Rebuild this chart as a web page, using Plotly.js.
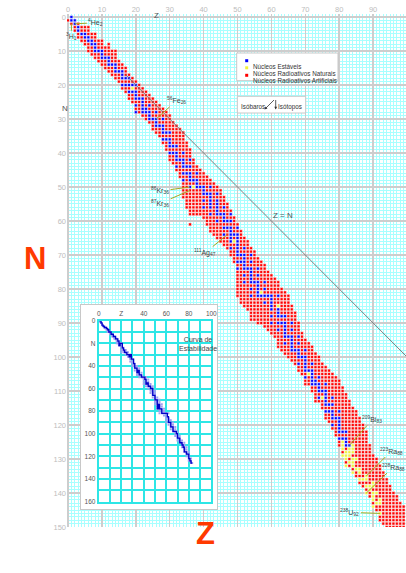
<!DOCTYPE html>
<html><head><meta charset="utf-8">
<script src="https://cdn.plot.ly/plotly-3.0.1.min.js"></script>
<style>html,body{margin:0;padding:0;background:#fff}#c{width:406px;height:573px}</style>
</head><body><div id="c"></div>
<script>
// ---------- DATA ----------
// proton number Z; lightest / heaviest known neutron number N for that Z
const zList = [0,1,2,3,4,5,6,7,8,9,10,11,12,13,14,15,16,17,18,19,20,21,22,23,24,25,26,27,28,29,30,31,32,33,34,35,36,37,38,39,40,41,42,43,44,45,46,47,48,49,50,51,52,53,54,55,56,57,58,59,60,61,62,63,64,65,66,67,68,69,70,71,72,73,74,75,76,77,78,79,80,81,82,83,84,85,86,87,88,89,90,91,92,93,94,95,96,97,98,99];
const nMin = [1,0,1,2,3,3,3,5,5,7,7,9,8,10,10,13,14,15,17,18,19,20,21,22,23,24,25,26,27,28,29,31,32,33,34,37,39,42,44,45,46,47,48,49,50,51,53,55,57,59,61,63,65,66,68,69,71,72,73,75,76,77,78,80,81,82,85,87,90,93,95,96,97,99,100,102,103,104,105,106,107,109,111,113,115,116,118,120,122,126,129,130,132,134,136,138,140,141,143,144];
const nMax = [1,2,4,6,7,8,10,11,12,13,14,15,16,17,18,19,21,22,24,25,28,28,29,30,31,33,34,35,37,39,42,43,45,47,53,56,58,58,58,58,59,61,63,64,65,66,67,68,70,72,82,84,85,86,89,89,90,90,91,92,93,94,97,98,99,100,101,102,104,105,108,108,110,113,113,115,118,119,121,123,126,129,132,132,134,135,137,138,140,141,144,145,148,149,150,150,150,150,150,150];
// isolated nuclides outside the ranges
const extraZ = [36];
const extraN = [61];
// stable nuclides: N values for each Z
const stableN = [[],[0,1],[1,2],[3,4],[5],[5,6],[6,7],[7,8],[8,9,10],[10],[10,11,12],[12],[12,13,14],[14],[14,15,16],[16],[16,17,18,20],[18,20],[18,20,22],[20,22],[20,22,23,24,26,28],[24],[24,25,26,27,28],[27,28],[26,28,29,30],[30],[28,30,31,32],[32],[30,32,33,34,36],[34,36],[34,36,37,38,40],[38,40],[38,40,41,42,44],[42],[40,42,43,44,46,48],[44,46],[42,44,46,47,48,50],[48],[46,48,49,50],[50],[50,51,52,54,56],[52],[50,52,53,54,55,56,58],[],[52,54,55,56,57,58,60],[58],[56,58,59,60,62,64],[60,62],[58,60,62,63,64,65,66,68],[64],[62,64,65,66,67,68,69,70,72,74],[70,72],[68,70,71,72,73,74,76,78],[74],[70,72,74,75,76,77,78,80,82],[78],[74,76,78,79,80,81,82],[82],[78,80,82,84],[82],[82,83,84,85,86,88,90],[],[82,86,87,88,90,92],[88,90],[88,90,91,92,93,94,96],[94],[90,92,94,95,96,97,98],[98],[94,96,98,99,100,102],[100],[98,100,101,102,103,104,106],[104],[102,104,105,106,107,108],[107,108],[106,108,109,110,112],[110],[108,110,111,112,113,114,116],[114,116],[112,114,116,117,118,120],[118],[116,118,119,120,121,122,124],[122,124],[122,124,125,126],[126]];
// natural radioactive nuclides
const naturalZ = [19,37,49,57,62,71,75,81,81,81,81,82,82,82,82,83,83,83,83,84,84,84,84,84,84,84,85,85,86,86,86,87,88,88,88,88,89,89,90,90,90,90,90,90,91,91,92,92,92];
const naturalN = [21,50,66,81,85,105,112,125,126,127,129,128,129,130,132,127,128,129,131,126,127,128,130,131,132,134,130,133,133,134,136,136,135,136,138,140,138,139,137,138,140,141,142,144,140,143,142,143,146];
// labelled nuclides
const labelText = ['<sup>4</sup>He<sub>2</sub>','<sup>3</sup>H<sub>1</sub>','<sup>56</sup>Fe<sub>26</sub>','<sup>86</sup>Kr<sub>36</sub>','<sup>87</sup>Kr<sub>36</sub>','<sup>111</sup>Ag<sub>47</sub>','<sup>209</sup>Bi<sub>83</sub>','<sup>223</sup>Ra<sub>88</sub>','<sup>228</sup>Ra<sub>88</sub>','<sup>238</sup>U<sub>92</sub>'];
const labelZ = [2,1,26,36,36,47,83,88,88,92];
const labelN = [2,2,30,50,51,64,126,135,140,146];
// Z = N reference line (visible part)
const lineZ = [17,100];
const lineN = [17,100];
// stability curve of the inset
const curveZ = [0,1,2,3,4,5,6,7,8,9,10,11,12,13,14,15,16,17,18,19,20,21,22,23,24,25,26,27,28,29,30,31,32,33,34,35,36,37,38,39,40,41,42,43,44,45,46,47,48,49,50,51,52,53,54,55,56,57,58,59,60,61,62,63,64,65,66,67,68,69,70,71,72,73,74,75,76,77,78,79,80,81,82,83];
const curveN = [0,0,2,4,5,6,6,7,8,10,10,12,12,14,14,16,16,18,22,20,20,24,26,28,28,30,30,32,30,34,34,38,42,42,46,44,48,48,50,50,50,52,56,55,58,58,60,60,66,66,70,70,78,74,78,78,82,82,82,82,82,85,90,90,94,94,98,98,98,100,104,104,108,108,110,112,116,116,118,118,122,124,126,126];
const insetZTicks = [0,20,40,60,80,100];
const insetZText = ['0','Z','40','60','80','100'];
const insetNTicks = [0,20,40,60,80,100,120,140,160];
const insetNText = ['0','N','40','60','80','100','120','140','160'];

// ---------- build the cells ----------
const isNat = {};
naturalZ.forEach((z,i)=>{ isNat[z+'_'+naturalN[i]] = true; });
const R={x:[],y:[]}, B={x:[],y:[]}, Y={x:[],y:[]};
const seen = {};
function put(z,n){
  const k=z+'_'+n; if(seen[k]) return; seen[k]=true;
  if((stableN[z]||[]).indexOf(n)>=0){B.x.push(z);B.y.push(n);}
  else if(isNat[k]){Y.x.push(z);Y.y.push(n);}
  else {R.x.push(z);R.y.push(n);}
}
zList.forEach((z,i)=>{ for(let n=nMin[i]; n<=nMax[i]; n++) put(z,n); });
stableN.forEach((arr,z)=>arr.forEach(n=>put(z,n)));
naturalZ.forEach((z,i)=>put(z,naturalN[i]));
extraZ.forEach((z,i)=>put(z,extraN[i]));
const stX=[], stY=[];
stableN.forEach((arr,z)=>arr.forEach(n=>{stX.push(z);stY.push(n);}));

// ---------- geometry helpers (pixel -> paper) ----------
const L=67, T=14, W=339, H=513;
const px = x => (x-L)/W;
const py = y => (T+H-y)/H;
const FONT = 'Liberation Sans, Arial, sans-serif';

const cell = (c)=>({type:'scatter',mode:'markers',hoverinfo:'skip',showlegend:false,
  marker:{symbol:'square',size:2.9,color:c,line:{color:'#ffffff',width:0.5}}});

const traces = [
  Object.assign(cell('#ff0000'),{x:R.x,y:R.y}),
  Object.assign(cell('#0000ff'),{x:B.x,y:B.y}),
  Object.assign(cell('#f2f23a'),{x:Y.x,y:Y.y}),
  {type:'scatter',mode:'lines',x:lineZ,y:lineN,line:{color:'#707070',width:0.9},hoverinfo:'skip',showlegend:false},
  {type:'scatter',mode:'markers',x:[0.5],y:[0.5],xaxis:'x2',yaxis:'y2',marker:{opacity:0},hoverinfo:'skip',showlegend:false},
  {type:'scatter',mode:'markers',x:stX,y:stY,xaxis:'x3',yaxis:'y3',marker:{symbol:'square',size:2,color:'#a0a0f2'},hoverinfo:'skip',showlegend:false},
  {type:'scatter',mode:'lines',x:curveZ,y:curveN,xaxis:'x3',yaxis:'y3',line:{color:'#0000c8',width:1.3,shape:'hv'},hoverinfo:'skip',showlegend:false}
];

const ann = [];
// nuclide labels with leader lines
const ldx = [21,0,20,-30,-30,-22,23,25,27,-30];
const ldy = [-1,13,-18,4,13,18,-26,-25,-26,-1];
labelText.forEach((t,i)=>ann.push({x:labelZ[i],y:labelN[i],xref:'x',yref:'y',text:t,showarrow:true,
  arrowhead:0,arrowwidth:1,arrowcolor:'#a8a820',ax:ldx[i],ay:ldy[i],standoff:0,
  font:{family:FONT,size:7,color:'#444'}}));
function txt(x,y,t,size,color,extra){ann.push(Object.assign({xref:'paper',yref:'paper',x:px(x),y:py(y),text:t,showarrow:false,
  font:{family:FONT,size:size,color:color}},extra||{}));}
txt(152,9,'Z',8,'#555');
txt(60,102,'N',8,'#555');
txt(283,215,'Z = N',8,'#555');
txt(22,258,'<b>N</b>',31,'#ff3a00');
txt(205,553,'<b>Z</b>',31,'#ff3a00');
txt(250.5,60.7,'Núcleos Estáveis',6.3,'#333',{xanchor:'left'});
txt(250.5,67.8,'Núcleos Radioativos Naturais',6.3,'#333',{xanchor:'left'});
txt(250.5,75.3,'Núcleos Radioativos Artificiais',6.3,'#333',{xanchor:'left'});
txt(252.5,101.5,'Isóbaros',6.3,'#333');
txt(289.5,101.5,'Isótopos',6.3,'#333');
txt(177,343.5,'Curva de<br>Estabilidade',7,'#444');
// arrows in the Isóbaros / Isótopos box
ann.push({xref:'paper',yref:'paper',x:px(264.5),y:py(109.5),ax:11,ay:-11,text:'',showarrow:true,arrowhead:2,arrowsize:0.7,arrowwidth:0.8,arrowcolor:'#333',standoff:0});
ann.push({xref:'paper',yref:'paper',x:px(275.7),y:py(109.5),ax:0,ay:-11,text:'',showarrow:true,arrowhead:2,arrowsize:0.7,arrowwidth:0.8,arrowcolor:'#333',standoff:0});

const shapes = [
  {type:'rect',xref:'paper',yref:'paper',x0:px(236.7),x1:px(338),y0:py(80.7),y1:py(53),fillcolor:'#fff',line:{color:'#c8c8c8',width:1},layer:'above'},
  {type:'rect',xref:'paper',yref:'paper',x0:px(237.3),x1:px(305.7),y0:py(113),y1:py(96.3),fillcolor:'#fff',line:{color:'#c8c8c8',width:1},layer:'above'},
  {type:'rect',xref:'paper',yref:'paper',x0:px(245.2),x1:px(248.2),y0:py(62.2),y1:py(59.2),fillcolor:'#0000ff',line:{width:0},layer:'above'},
  {type:'rect',xref:'paper',yref:'paper',x0:px(245.2),x1:px(248.2),y0:py(69.3),y1:py(66.3),fillcolor:'#f2f23a',line:{width:0},layer:'above'},
  {type:'rect',xref:'paper',yref:'paper',x0:px(245.2),x1:px(248.2),y0:py(76.8),y1:py(73.8),fillcolor:'#ff0000',line:{width:0},layer:'above'}
];

const cyan = '#2ee6e6';
const layout = {
  width:406,height:573,margin:{l:L,r:406-L-W,t:T,b:573-T-H},
  paper_bgcolor:'#ffffff',plot_bgcolor:'#ffffff',showlegend:false,
  font:{family:FONT},
  xaxis:{range:[-0.3,99.7],side:'top',tickmode:'linear',tick0:0,dtick:10,showgrid:true,gridcolor:'#cdcdcd',gridwidth:1.5,
    minor:{dtick:1,tick0:0,showgrid:true,gridcolor:'#a8ffff',gridwidth:1},
    zeroline:false,showline:false,ticks:'',tickfont:{size:7.5,color:'#bdbdbd'},fixedrange:true},
  yaxis:{range:[150,-0.88],tickmode:'linear',tick0:0,dtick:10,showgrid:true,gridcolor:'#cdcdcd',gridwidth:1.5,
    minor:{dtick:1,tick0:0,showgrid:true,gridcolor:'#a8ffff',gridwidth:1},
    zeroline:false,showline:false,ticks:'',tickfont:{size:7.5,color:'#bdbdbd'},fixedrange:true},
  xaxis2:{domain:[px(80.7),px(217)],anchor:'y2',range:[0,1],showgrid:false,zeroline:false,showticklabels:false,ticks:'',
    showline:true,mirror:true,linecolor:'#c8c8c8',linewidth:1},
  yaxis2:{domain:[py(509),py(305)],anchor:'x2',range:[0,1],showgrid:false,zeroline:false,showticklabels:false,ticks:'',
    showline:true,mirror:true,linecolor:'#c8c8c8',linewidth:1},
  xaxis3:{domain:[px(98.7),px(211.3)],anchor:'y3',range:[0,100],side:'top',tickvals:insetZTicks,
    ticktext:insetZText,showgrid:true,gridcolor:cyan,gridwidth:2,
    minor:{dtick:10,tick0:0,showgrid:true,gridcolor:cyan,gridwidth:2},zeroline:false,ticks:'',
    showline:true,mirror:true,linecolor:cyan,linewidth:2,tickfont:{size:6.5,color:'#555'}},
  yaxis3:{domain:[py(501.5),py(320.7)],anchor:'x3',range:[160,0],tickvals:insetNTicks,
    ticktext:insetNText,showgrid:true,gridcolor:cyan,gridwidth:2,
    minor:{dtick:10,tick0:0,showgrid:true,gridcolor:cyan,gridwidth:2},zeroline:false,ticks:'',
    showline:true,mirror:true,linecolor:cyan,linewidth:2,tickfont:{size:6.5,color:'#555'}},
  annotations:ann, shapes:shapes
};
Plotly.newPlot('c',traces,layout,{staticPlot:true,displayModeBar:false});
</script></body></html>
